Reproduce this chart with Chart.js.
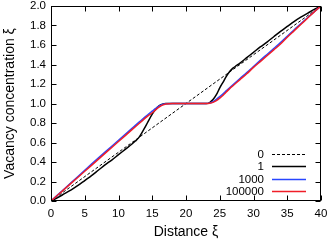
<!DOCTYPE html>
<html>
<head>
<meta charset="utf-8">
<script src="https://cdn.jsdelivr.net/npm/chart.js@4.4.1/dist/chart.umd.min.js"></script>
<style>
  html, body { margin: 0; padding: 0; background: #fff; }
</style>
</head>
<body>
<canvas id="c" width="328" height="244"></canvas>
<script>
// distance values (xi) shared by the curved series
const xs = [0,1,2,3,4,5,6,7,8,9,10,11,12,
  12.5,13,13.5,14,14.5,15,15.5,16,16.5,
  17,18,19,20,21,22,23,
  23.5,24,24.5,25,25.5,26,26.5,27,27.5,
  28,29,30,31,32,33,34,35,36,37,38,39,40];

// t = 0 : straight initial profile
const xs0 = [0, 40];
const y0 = [0, 2];

// t = 1
const y1 = [0,0.035,0.075,0.115,0.16,0.21,0.26,0.315,0.37,0.42,0.475,0.53,0.585,
  0.615,0.65,0.705,0.765,0.83,0.89,0.94,0.975,0.993,
  1,1,1,1,1,1,1,
  1.01,1.04,1.09,1.16,1.22,1.28,1.33,1.365,1.39,
  1.415,1.47,1.525,1.58,1.63,1.685,1.74,1.79,1.84,1.885,1.925,1.965,2];

// t = 1000
const y1000 = [0,0.063,0.126,0.189,0.252,0.315,0.378,0.44,0.501,0.562,0.623,0.684,0.745,
  0.776,0.806,0.836,0.866,0.895,0.922,0.949,0.973,0.99,
  0.998,1,1,1,1,1,1,
  1.004,1.018,1.042,1.07,1.1,1.132,1.163,1.194,1.225,
  1.256,1.317,1.38,1.442,1.503,1.564,1.625,1.69,1.754,1.818,1.88,1.941,2];

// t = 100000
const y100000 = [0,0.061,0.122,0.183,0.244,0.305,0.366,0.427,0.488,0.549,0.61,0.671,0.732,
  0.762,0.792,0.822,0.852,0.88,0.905,0.935,0.962,0.984,
  0.996,1,1,1,1,1,1,
  1.003,1.012,1.03,1.055,1.085,1.12,1.155,1.185,1.215,
  1.245,1.305,1.37,1.43,1.49,1.55,1.61,1.68,1.745,1.81,1.875,1.94,2];

const labels = ['0', '1', '1000', '100000'];

const pts = (xv, yv) => xv.map((x, i) => ({ x: x, y: yv[i] }));
const FONT = "'Liberation Sans', Arial, Helvetica, sans-serif";

// gnuplot-like frame, inward ticks and key
const framePlugin = {
  id: 'frame',
  afterDraw(chart) {
    const ctx = chart.ctx;
    const a = chart.chartArea;
    const sx = chart.scales.x, sy = chart.scales.y;
    const L = Math.round(a.left) + 0.5, R = Math.round(a.right) - 0.5;
    const T = Math.round(a.top) + 0.5, B = Math.round(a.bottom) - 0.5;
    ctx.save();
    ctx.strokeStyle = '#000';
    ctx.lineWidth = 1;
    ctx.strokeRect(L, T, R - L, B - T);
    ctx.beginPath();
    sx.ticks.forEach(t => {
      const px = Math.round(sx.getPixelForValue(t.value)) + 0.5;
      ctx.moveTo(px, B); ctx.lineTo(px, B - 5);
      ctx.moveTo(px, T); ctx.lineTo(px, T + 5);
    });
    sy.ticks.forEach(t => {
      const py = Math.round(sy.getPixelForValue(t.value)) + 0.5;
      ctx.moveTo(L, py); ctx.lineTo(L + 5, py);
      ctx.moveTo(R, py); ctx.lineTo(R - 5, py);
    });
    ctx.stroke();

    // key, bottom right
    ctx.font = '11.5px ' + FONT;
    ctx.textAlign = 'right';
    ctx.textBaseline = 'middle';
    ctx.fillStyle = '#000';
    labels.forEach((lab, i) => {
      const ds = chart.data.datasets.find(d => d.label === lab);
      const y = Math.round(154 + i * 12.3) + 0.5;
      ctx.fillText(lab, 264, y);
      ctx.beginPath();
      ctx.strokeStyle = ds.borderColor;
      ctx.lineWidth = ds.borderWidth;
      ctx.setLineDash(ds.borderDash || []);
      ctx.moveTo(272, y); ctx.lineTo(306, y);
      ctx.stroke();
      ctx.setLineDash([]);
    });
    ctx.restore();
  }
};

new Chart(document.getElementById('c'), {
  type: 'line',
  data: {
    datasets: [
      { label: '100000', data: pts(xs, y100000), borderColor: 'rgb(240,30,40)', borderWidth: 1.5, order: 0 },
      { label: '1000', data: pts(xs, y1000), borderColor: 'rgb(40,70,255)', borderWidth: 1.5, order: 1 },
      { label: '1', data: pts(xs, y1), borderColor: '#000', borderWidth: 1.5, order: 2 },
      { label: '0', data: pts(xs0, y0), borderColor: '#000', borderWidth: 1, borderDash: [3, 2], order: 3 }
    ]
  },
  options: {
    responsive: false,
    animation: false,
    devicePixelRatio: 1,
    layout: { padding: 0 },
    elements: {
      point: { radius: 0 },
      line: { cubicInterpolationMode: 'monotone', fill: false }
    },
    plugins: { legend: { display: false }, tooltip: { enabled: false } },
    scales: {
      x: {
        type: 'linear', min: 0, max: 40,
        grid: { display: false, drawTicks: false },
        border: { display: false },
        ticks: { stepSize: 5, color: '#000', padding: 6, font: { family: FONT, size: 11.5 } },
        title: { display: true, text: 'Distance ξ', color: '#000',
          font: { family: FONT, size: 14 }, padding: { top: 2, bottom: 3 } },
        afterFit: s => { s.height = 43; s.paddingLeft = 0; s.paddingRight = 7; }
      },
      y: {
        type: 'linear', min: 0, max: 2,
        grid: { display: false, drawTicks: false },
        border: { display: false },
        ticks: { stepSize: 0.2, color: '#000', padding: 5, font: { family: FONT, size: 11.5 },
          callback: v => v.toFixed(1) },
        title: { display: true, text: 'Vacancy concentration ξ', color: '#000',
          font: { family: FONT, size: 14 }, padding: { top: 2, bottom: 0 } },
        afterFit: s => { s.width = 51; s.paddingTop = 6; s.paddingBottom = 0; }
      }
    }
  },
  plugins: [framePlugin]
});
</script>
</body>
</html>
